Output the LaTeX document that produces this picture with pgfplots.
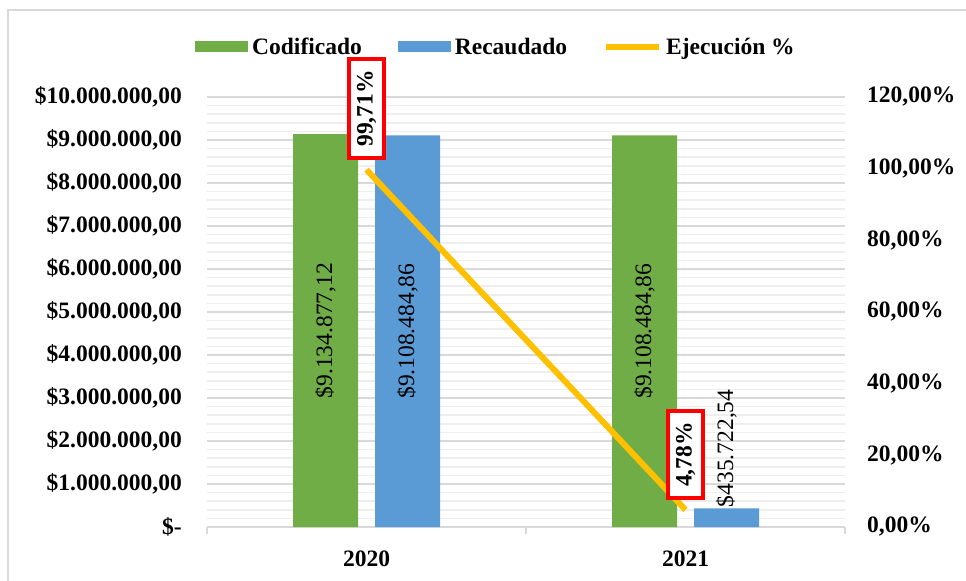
\documentclass[border=0pt]{standalone}
\usepackage{pgfplots}
\pgfplotsset{compat=1.18}
\usepackage{fontspec}
\setmainfont{Liberation Serif}
\usetikzlibrary{calc}
\definecolor{cgreen}{HTML}{70AD47}
\definecolor{cblue}{HTML}{5B9BD5}
\definecolor{cgold}{HTML}{FFC000}
\definecolor{cgrid}{HTML}{D9D9D9}
\definecolor{cminor}{HTML}{EEEEEE}
\definecolor{cframe}{HTML}{D9D9D9}
\newcommand\lab{\fontsize{23.5bp}{27bp}\selectfont}
\begin{document}
\begin{tikzpicture}
\useasboundingbox (0,0) rectangle (966bp,581bp);
\fill[white] (0,0) rectangle (966bp,581bp);
\draw[cframe, line width=1.5bp] (8bp,-5bp) rectangle (975bp,571bp);
\begin{axis}[
  at={(207bp,54bp)}, anchor=south west,
  scale only axis, width=638bp, height=430bp,
  clip=false,
  ybar, bar width=65bp,
  xmin=-0.5, xmax=1.5, ymin=0, ymax=10000000,
  scaled y ticks=false,
  xtick={0,1}, xticklabels={2020,2021},
  minor xtick={-0.5,0.5,1.5},
  major x tick style={draw=none},
  minor x tick style={draw=cgrid, line width=1.2bp},
  minor tick length=7bp,
  xtick align=outside,
  ytick={0,1000000,2000000,3000000,4000000,5000000,6000000,7000000,8000000,9000000,10000000},
  yticklabels={{\$-\hspace{11bp}},{\$1.000.000,00},{\$2.000.000,00},{\$3.000.000,00},{\$4.000.000,00},{\$5.000.000,00},{\$6.000.000,00},{\$7.000.000,00},{\$8.000.000,00},{\$9.000.000,00},{\$10.000.000,00}},
  major y tick style={draw=none},
  ymajorgrids,
  major grid style={draw=cgrid, line width=1.6bp},
  axis x line*=bottom, axis y line*=left,
  x axis line style={draw=cgrid, line width=1.5bp, -},
  y axis line style={draw=none},
  tick label style={font=\bfseries\lab},
  yticklabel style={anchor=east, inner sep=0pt, xshift=-25bp},
  xticklabel style={anchor=north, inner sep=0pt, yshift=-19bp},
  legend style={at={(axis description cs:0.4545,1.1163)}, anchor=center, draw=none, fill=none,
    font=\bfseries\lab, nodes={inner xsep=4bp, inner ysep=0pt},
    /tikz/every even column/.append style={column sep=32bp}},
  legend columns=3,
]
\pgfplotsinvokeforeach{200000,400000,600000,800000,1200000,1400000,1600000,1800000,2200000,2400000,2600000,2800000,3200000,3400000,3600000,3800000,4200000,4400000,4600000,4800000,5200000,5400000,5600000,5800000,6200000,6400000,6600000,6800000,7200000,7400000,7600000,7800000,8200000,8400000,8600000,8800000,9200000,9400000,9600000,9800000}{
  \draw[cminor, line width=1.6bp] (axis cs:-0.5,#1) -- (axis cs:1.5,#1);
}
\addplot[fill=cgreen, draw=none, bar shift=-41bp,
  legend image code/.code={\fill[cgreen] (0bp,-5.5bp) rectangle (53bp,5.5bp);},
  nodes near coords, point meta=explicit symbolic,
  visualization depends on=rawy \as \rawy,
  every node near coord/.append style={shift={($0.5*(axis direction cs:0,-\rawy)$)}, rotate=90, anchor=center, font=\lab, text=black}]
  coordinates {(0,9134877.12) [\$9.134.877,12] (1,9108484.86) [\$9.108.484,86]};
\addlegendentry{Codificado}
\addplot[fill=cblue, draw=none, bar shift=41bp,
  legend image code/.code={\fill[cblue] (0bp,-5.5bp) rectangle (53bp,5.5bp);},
  nodes near coords, point meta=explicit symbolic,
  visualization depends on=rawy \as \rawy,
  every node near coord/.append style={shift={($0.5*(axis direction cs:0,-\rawy)$)}, rotate=90, anchor=center, font=\lab, text=black}]
  coordinates {(0,9108484.86) [\$9.108.484,86] (1,435722.54) []};
\addlegendentry{Recaudado}
\addplot[forget plot, draw=none, fill=none, bar shift=41bp,
  nodes near coords, point meta=explicit symbolic,
  every node near coord/.append style={rotate=90, anchor=west, font=\lab, text=black, inner xsep=1bp}]
  coordinates {(1,435722.54) [\$435.722,54]};
\addlegendimage{legend image code/.code={\draw[cgold, line width=6bp] (0bp,0bp) -- (53bp,0bp);}}
\addlegendentry{Ejecución \%}
\end{axis}
\begin{axis}[
  at={(207bp,54bp)}, anchor=south west,
  scale only axis, width=638bp, height=430bp,
  clip=false,
  xmin=-0.5, xmax=1.5, ymin=0, ymax=120,
  axis x line=none, axis y line*=right,
  y axis line style={draw=none},
  ytick={0,20,40,60,80,100,120},
  yticklabels={{0,00\%},{20,00\%},{40,00\%},{60,00\%},{80,00\%},{100,00\%},{120,00\%}},
  ytick style={draw=none},
  tick label style={font=\bfseries\lab},
  yticklabel style={anchor=west, inner sep=0pt, xshift=22bp},
]
\addplot[cgold, line width=6bp, mark=none,
  nodes near coords, point meta=explicit symbolic,
  every node near coord/.append style={rotate=90, anchor=west, draw=red, line width=4bp, fill=white, text=black, font=\bfseries\lab, inner xsep=11bp, inner ysep=7.5bp, outer xsep=12bp}]
  coordinates {(0,99.71) [99,71\%] (1,4.78) [4,78\%]};
\end{axis}
\end{tikzpicture}
\end{document}
